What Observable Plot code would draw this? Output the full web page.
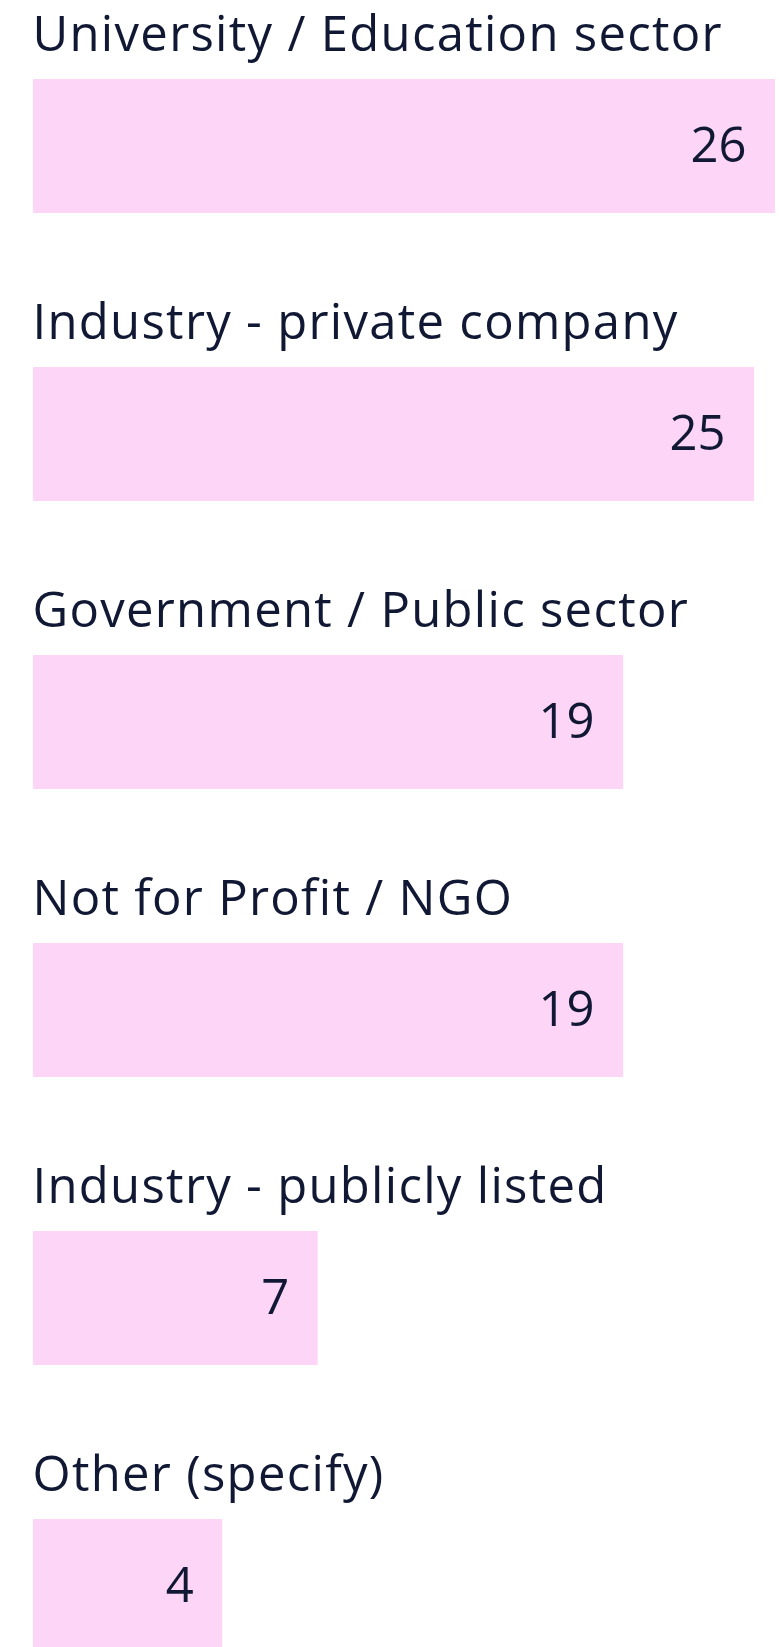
<!DOCTYPE html>
<html>
<head>
<meta charset="utf-8">
<script src="https://cdn.jsdelivr.net/npm/d3@7"></script>
<script src="https://cdn.jsdelivr.net/npm/@observablehq/plot@0.6"></script>
<style>
  html, body { margin: 0; padding: 0; background: #ffffff; }
  #chart svg { display: block; }
  #chart g[text-anchor="start"] text { letter-spacing: 1.3px; }
</style>
</head>
<body>
<div id="chart"></div>
<script>
const categories = [
  "University / Education sector",
  "Industry - private company",
  "Government / Public sector",
  "Not for Profit / NGO",
  "Industry - publicly listed",
  "Other (specify)"
];
const values = [26, 25, 19, 19, 7, 4];

const data = categories.map((c, i) => ({category: c, value: values[i]}));

const W = 779, H = 1647, STEP = 288;
const font = "'Open Sans', Lato, sans-serif";

const chart = Plot.plot({
  width: W,
  height: H,
  margin: 0,
  style: {background: "#ffffff", fontFamily: font},
  x: {type: "pow", exponent: 0.73, domain: [0, 26], range: [33, 775], axis: null},
  y: {type: "band", domain: categories, range: [0, categories.length * STEP], padding: 0, axis: null},
  marks: [
    Plot.barX(data, {x: "value", y: "category", fill: "#fdd6f7", insetTop: 79, insetBottom: 75}),
    Plot.text(data, {
      x: 0, y: "category", text: "category",
      textAnchor: "start", lineAnchor: "bottom", dy: -94, dx: -1,
      fontSize: 49, fill: "#101834", fontFamily: font
    }),
    Plot.text(data, {
      x: "value", y: "category", text: d => String(d.value),
      textAnchor: "end", lineAnchor: "middle", dx: -29, dy: 2,
      fontSize: 49, fill: "#101834", fontFamily: font
    })
  ]
});
document.getElementById("chart").appendChild(chart);
</script>
</body>
</html>
